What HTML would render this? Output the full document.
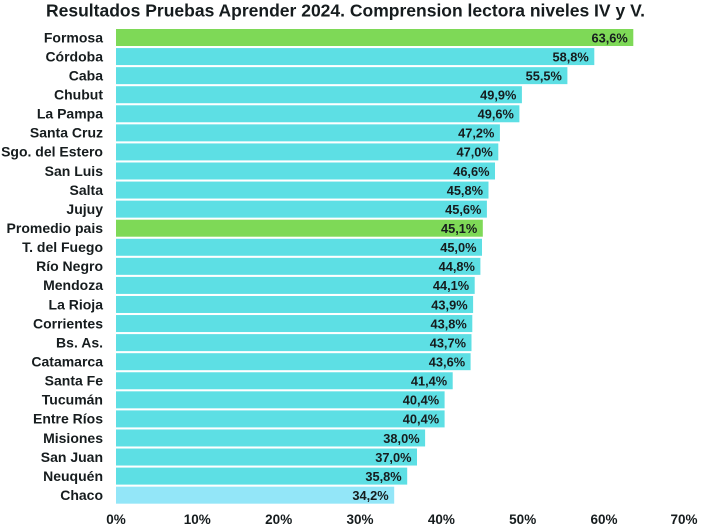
<!DOCTYPE html>
<html>
<head>
<meta charset="utf-8">
<style>
html,body{margin:0;padding:0;background:#fff;}
svg{display:block;}
text{font-family:"Liberation Sans",Arial,sans-serif;font-weight:bold;fill:#161c1e;}
</style>
</head>
<body>
<svg width="702" height="528" viewBox="0 0 702 528" xmlns="http://www.w3.org/2000/svg">
<rect x="0" y="0" width="702" height="528" fill="#fff"/>
<text x="345.5" y="16.5" font-size="17.5" text-anchor="middle" textLength="599" lengthAdjust="spacingAndGlyphs">Resultados Pruebas Aprender 2024. Comprension lectora niveles IV y V.</text>
<g id="bars"></g>
<g font-size="13.5" text-anchor="middle">
<text x="116" y="524">0%</text>
<text x="197.3" y="524">10%</text>
<text x="278.7" y="524">20%</text>
<text x="360" y="524">30%</text>
<text x="441.4" y="524">40%</text>
<text x="522.7" y="524">50%</text>
<text x="604" y="524">60%</text>
<text x="684" y="524">70%</text>
</g>
<g id="rows">
<!-- generated inline -->
<rect x="116" y="29.00" width="517.3" height="17" fill="#7ed957"/>
<text x="103" y="42.3" font-size="14" text-anchor="end">Formosa</text>
<text x="627.8" y="42.3" font-size="12.8" text-anchor="end">63,6%</text>

<rect x="116" y="48.07" width="478.3" height="17" fill="#5ddfe4"/>
<text x="103" y="61.4" font-size="14" text-anchor="end">Córdoba</text>
<text x="588.8" y="61.4" font-size="12.8" text-anchor="end">58,8%</text>

<rect x="116" y="67.14" width="451.4" height="17" fill="#5ddfe4"/>
<text x="103" y="80.4" font-size="14" text-anchor="end">Caba</text>
<text x="561.9" y="80.4" font-size="12.8" text-anchor="end">55,5%</text>

<rect x="116" y="86.21" width="405.9" height="17" fill="#5ddfe4"/>
<text x="103" y="99.5" font-size="14" text-anchor="end">Chubut</text>
<text x="516.4" y="99.5" font-size="12.8" text-anchor="end">49,9%</text>

<rect x="116" y="105.28" width="403.4" height="17" fill="#5ddfe4"/>
<text x="103" y="118.6" font-size="14" text-anchor="end">La Pampa</text>
<text x="513.9" y="118.6" font-size="12.8" text-anchor="end">49,6%</text>

<rect x="116" y="124.35" width="383.9" height="17" fill="#5ddfe4"/>
<text x="103" y="137.6" font-size="14" text-anchor="end">Santa Cruz</text>
<text x="494.4" y="137.6" font-size="12.8" text-anchor="end">47,2%</text>

<rect x="116" y="143.42" width="382.3" height="17" fill="#5ddfe4"/>
<text x="103" y="156.7" font-size="14" text-anchor="end">Sgo. del Estero</text>
<text x="492.8" y="156.7" font-size="12.8" text-anchor="end">47,0%</text>

<rect x="116" y="162.49" width="379.0" height="17" fill="#5ddfe4"/>
<text x="103" y="175.8" font-size="14" text-anchor="end">San Luis</text>
<text x="489.5" y="175.8" font-size="12.8" text-anchor="end">46,6%</text>

<rect x="116" y="181.56" width="372.5" height="17" fill="#5ddfe4"/>
<text x="103" y="194.9" font-size="14" text-anchor="end">Salta</text>
<text x="483.0" y="194.9" font-size="12.8" text-anchor="end">45,8%</text>

<rect x="116" y="200.63" width="370.9" height="17" fill="#5ddfe4"/>
<text x="103" y="213.9" font-size="14" text-anchor="end">Jujuy</text>
<text x="481.4" y="213.9" font-size="12.8" text-anchor="end">45,6%</text>

<rect x="116" y="219.70" width="366.8" height="17" fill="#7ed957"/>
<text x="103" y="233.0" font-size="14" text-anchor="end">Promedio pais</text>
<text x="477.3" y="233.0" font-size="12.8" text-anchor="end">45,1%</text>

<rect x="116" y="238.77" width="366.0" height="17" fill="#5ddfe4"/>
<text x="103" y="252.1" font-size="14" text-anchor="end">T. del Fuego</text>
<text x="476.5" y="252.1" font-size="12.8" text-anchor="end">45,0%</text>

<rect x="116" y="257.84" width="364.4" height="17" fill="#5ddfe4"/>
<text x="103" y="271.1" font-size="14" text-anchor="end">Río Negro</text>
<text x="474.9" y="271.1" font-size="12.8" text-anchor="end">44,8%</text>

<rect x="116" y="276.91" width="358.7" height="17" fill="#5ddfe4"/>
<text x="103" y="290.2" font-size="14" text-anchor="end">Mendoza</text>
<text x="469.2" y="290.2" font-size="12.8" text-anchor="end">44,1%</text>

<rect x="116" y="295.98" width="357.1" height="17" fill="#5ddfe4"/>
<text x="103" y="309.3" font-size="14" text-anchor="end">La Rioja</text>
<text x="467.6" y="309.3" font-size="12.8" text-anchor="end">43,9%</text>

<rect x="116" y="315.05" width="356.3" height="17" fill="#5ddfe4"/>
<text x="103" y="328.4" font-size="14" text-anchor="end">Corrientes</text>
<text x="466.8" y="328.4" font-size="12.8" text-anchor="end">43,8%</text>

<rect x="116" y="334.12" width="355.5" height="17" fill="#5ddfe4"/>
<text x="103" y="347.4" font-size="14" text-anchor="end">Bs. As.</text>
<text x="466.0" y="347.4" font-size="12.8" text-anchor="end">43,7%</text>

<rect x="116" y="353.19" width="354.6" height="17" fill="#5ddfe4"/>
<text x="103" y="366.5" font-size="14" text-anchor="end">Catamarca</text>
<text x="465.1" y="366.5" font-size="12.8" text-anchor="end">43,6%</text>

<rect x="116" y="372.26" width="336.7" height="17" fill="#5ddfe4"/>
<text x="103" y="385.6" font-size="14" text-anchor="end">Santa Fe</text>
<text x="447.2" y="385.6" font-size="12.8" text-anchor="end">41,4%</text>

<rect x="116" y="391.33" width="328.6" height="17" fill="#5ddfe4"/>
<text x="103" y="404.6" font-size="14" text-anchor="end">Tucumán</text>
<text x="439.1" y="404.6" font-size="12.8" text-anchor="end">40,4%</text>

<rect x="116" y="410.40" width="328.6" height="17" fill="#5ddfe4"/>
<text x="103" y="423.7" font-size="14" text-anchor="end">Entre Ríos</text>
<text x="439.1" y="423.7" font-size="12.8" text-anchor="end">40,4%</text>

<rect x="116" y="429.47" width="309.1" height="17" fill="#5ddfe4"/>
<text x="103" y="442.8" font-size="14" text-anchor="end">Misiones</text>
<text x="419.6" y="442.8" font-size="12.8" text-anchor="end">38,0%</text>

<rect x="116" y="448.54" width="301.0" height="17" fill="#5ddfe4"/>
<text x="103" y="461.8" font-size="14" text-anchor="end">San Juan</text>
<text x="411.5" y="461.8" font-size="12.8" text-anchor="end">37,0%</text>

<rect x="116" y="467.61" width="291.2" height="17" fill="#5ddfe4"/>
<text x="103" y="480.9" font-size="14" text-anchor="end">Neuquén</text>
<text x="401.7" y="480.9" font-size="12.8" text-anchor="end">35,8%</text>

<rect x="116" y="486.68" width="278.2" height="17" fill="#93e6f8"/>
<text x="103" y="500.0" font-size="14" text-anchor="end">Chaco</text>
<text x="388.7" y="500.0" font-size="12.8" text-anchor="end">34,2%</text>
</g>
</svg>
</body>
</html>
